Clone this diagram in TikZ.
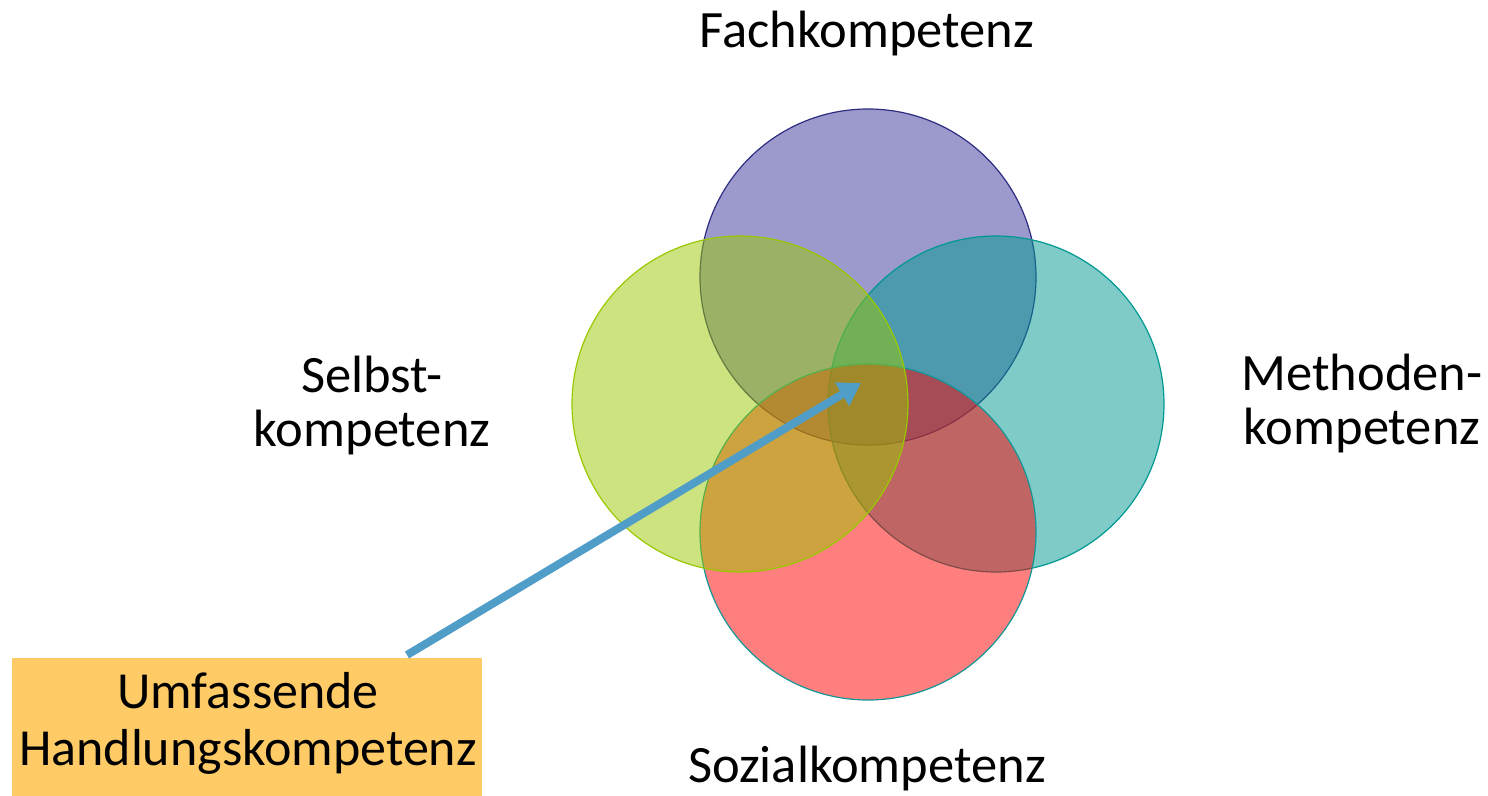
\documentclass[tikz,border=0pt]{standalone}
\usepackage{fontspec}
\setmainfont{Carlito}
\usetikzlibrary{arrows.meta}
\definecolor{cPurple}{RGB}{58,54,156}
\definecolor{cPurpleEdge}{RGB}{45,45,130}
\definecolor{cGreen}{RGB}{153,200,0}
\definecolor{cTeal}{RGB}{0,152,145}
\definecolor{cRed}{RGB}{255,0,0}
\definecolor{cTealEdge}{RGB}{20,150,150}
\definecolor{cArrow}{RGB}{80,158,200}
\definecolor{cBox}{RGB}{254,203,102}
\tikzset{
  venn/.style={circle, minimum size=336pt, inner sep=0pt, fill opacity=0.5, draw opacity=1, line width=1.2pt},
  label/.style={font=\fontsize{52.5}{54}\selectfont, inner sep=0pt, align=center, anchor=base},
  boxlabel/.style={label, font=\fontsize{52}{57}\selectfont},
  pointer/.style={line width=8pt, draw=cArrow, -{Triangle[length=22pt,width=26pt]}}
}
\begin{document}
\begin{tikzpicture}[x=1pt,y=-1pt]
\useasboundingbox (0,0) rectangle (1488,795);
\node[venn, fill=cPurple, draw=cPurpleEdge] (fach) at (868,277) {};
\node[venn, fill=cTeal, draw=cTeal] (meth) at (996,404) {};
\node[venn, fill=cRed, draw=cTealEdge] (sozi) at (868,532) {};
\node[venn, fill=cGreen, draw=cGreen] (selb) at (740,404) {};
\node[label] (tfach) at (867,47) {Fachkompetenz};
\node[label] (tselb) at (372,446) {Selbst-\\kompetenz};
\node[label] (tmeth) at (1362,444) {Methoden-\\kompetenz};
\node[label] (tsozi) at (867,782) {Sozialkompetenz};
\node[fill=cBox, minimum width=470pt, minimum height=140pt, inner sep=0pt] (box) at (247,728) {};
\node[boxlabel] (tbox) at (248,765) {Umfassende\\Handlungskompetenz};
\coordinate (astart) at (407,655);
\coordinate (atip) at (861,383);
\draw[pointer] (astart) -- (atip);
\end{tikzpicture}
\end{document}
